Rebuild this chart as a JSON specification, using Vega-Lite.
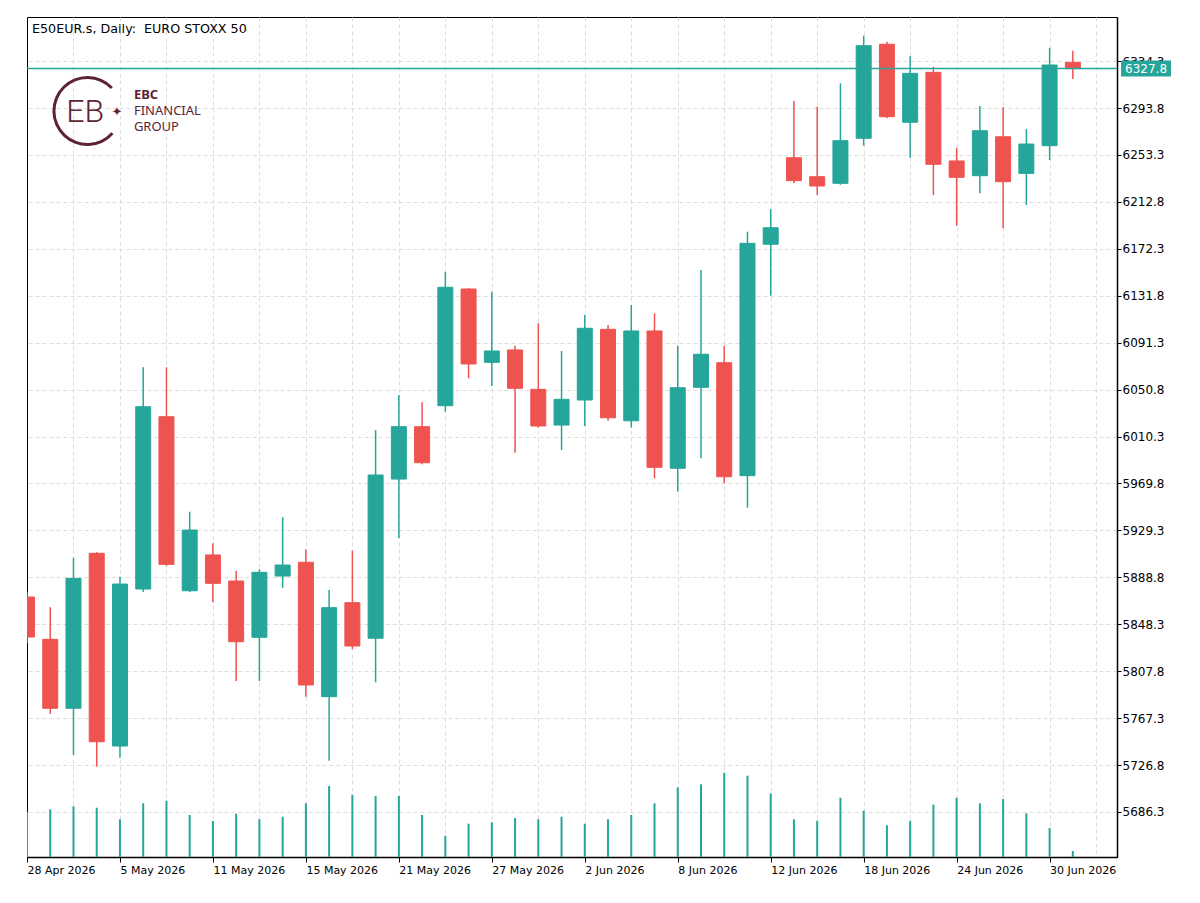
{
  "$schema": "https://vega.github.io/schema/vega-lite/v6.json",
  "width": 1090,
  "height": 840,
  "padding": {"left": 27, "top": 17, "right": 83, "bottom": 46},
  "autosize": {"type": "none"},
  "background": "white",
  "config": {
    "view": {"stroke": "#000000", "strokeWidth": 1},
    "font": "DejaVu Sans",
    "text": {"font": "DejaVu Sans"}
  },
  "data": {
    "values": [
      {"bar": 0, "date": "2026-04-28", "open": 5871.8, "high": 5876.0, "low": 5832.0, "close": 5837.3, "volume": 63000},
      {"bar": 1, "date": "2026-04-29", "open": 5835.3, "high": 5862.9, "low": 5770.9, "close": 5775.8, "volume": 66800},
      {"bar": 2, "date": "2026-04-30", "open": 5775.8, "high": 5905.7, "low": 5735.5, "close": 5887.9, "volume": 71000},
      {"bar": 3, "date": "2026-05-04", "open": 5909.5, "high": 5910.5, "low": 5725.4, "close": 5746.9, "volume": 69000},
      {"bar": 4, "date": "2026-05-05", "open": 5743.2, "high": 5889.3, "low": 5733.1, "close": 5883.0, "volume": 52800},
      {"bar": 5, "date": "2026-05-06", "open": 5878.7, "high": 6070.0, "low": 5876.1, "close": 6036.0, "volume": 75200},
      {"bar": 6, "date": "2026-05-07", "open": 6027.4, "high": 6070.0, "low": 5898.6, "close": 5900.0, "volume": 78800},
      {"bar": 7, "date": "2026-05-08", "open": 5877.2, "high": 5945.4, "low": 5876.0, "close": 5929.6, "volume": 58800},
      {"bar": 8, "date": "2026-05-11", "open": 5908.1, "high": 5918.2, "low": 5867.2, "close": 5883.6, "volume": 50400},
      {"bar": 9, "date": "2026-05-12", "open": 5885.6, "high": 5894.5, "low": 5799.3, "close": 5833.2, "volume": 60600},
      {"bar": 10, "date": "2026-05-13", "open": 5837.0, "high": 5895.7, "low": 5799.3, "close": 5893.1, "volume": 52800},
      {"bar": 11, "date": "2026-05-14", "open": 5889.9, "high": 5940.6, "low": 5879.8, "close": 5899.4, "volume": 56400},
      {"bar": 12, "date": "2026-05-15", "open": 5901.8, "high": 5913.0, "low": 5785.8, "close": 5795.9, "volume": 75200},
      {"bar": 13, "date": "2026-05-18", "open": 5785.8, "high": 5877.9, "low": 5730.5, "close": 5862.6, "volume": 99400},
      {"bar": 14, "date": "2026-05-19", "open": 5866.9, "high": 5911.8, "low": 5826.9, "close": 5829.5, "volume": 87200},
      {"bar": 15, "date": "2026-05-20", "open": 5836.2, "high": 6015.9, "low": 5798.2, "close": 5977.1, "volume": 85400},
      {"bar": 16, "date": "2026-05-21", "open": 5973.6, "high": 6046.1, "low": 5922.7, "close": 6018.8, "volume": 85400},
      {"bar": 17, "date": "2026-05-22", "open": 6018.8, "high": 6039.8, "low": 5986.3, "close": 5987.7, "volume": 58800},
      {"bar": 18, "date": "2026-05-25", "open": 6036.9, "high": 6152.5, "low": 6031.7, "close": 6139.1, "volume": 29800},
      {"bar": 19, "date": "2026-05-26", "open": 6137.6, "high": 6138.5, "low": 6060.5, "close": 6072.9, "volume": 46600},
      {"bar": 20, "date": "2026-05-27", "open": 6074.3, "high": 6135.3, "low": 6053.9, "close": 6084.1, "volume": 48600},
      {"bar": 21, "date": "2026-05-28", "open": 6085.0, "high": 6088.7, "low": 5996.3, "close": 6051.9, "volume": 54600},
      {"bar": 22, "date": "2026-05-29", "open": 6051.0, "high": 6108.0, "low": 6017.9, "close": 6019.4, "volume": 52800},
      {"bar": 23, "date": "2026-06-01", "open": 6020.2, "high": 6084.1, "low": 5998.7, "close": 6042.4, "volume": 56400},
      {"bar": 24, "date": "2026-06-02", "open": 6041.8, "high": 6115.2, "low": 6019.4, "close": 6103.7, "volume": 46600},
      {"bar": 25, "date": "2026-06-03", "open": 6102.8, "high": 6106.5, "low": 6023.9, "close": 6026.5, "volume": 52800},
      {"bar": 26, "date": "2026-06-04", "open": 6023.9, "high": 6123.8, "low": 6017.9, "close": 6101.4, "volume": 58800},
      {"bar": 27, "date": "2026-06-05", "open": 6101.4, "high": 6116.6, "low": 5974.2, "close": 5983.7, "volume": 75200},
      {"bar": 28, "date": "2026-06-08", "open": 5982.9, "high": 6088.7, "low": 5962.7, "close": 6052.4, "volume": 97600},
      {"bar": 29, "date": "2026-06-09", "open": 6052.8, "high": 6154.0, "low": 5991.5, "close": 6081.3, "volume": 101800},
      {"bar": 30, "date": "2026-06-10", "open": 6074.0, "high": 6088.7, "low": 5969.9, "close": 5975.6, "volume": 118000},
      {"bar": 31, "date": "2026-06-11", "open": 5976.5, "high": 6187.1, "low": 5948.9, "close": 6177.0, "volume": 113800},
      {"bar": 32, "date": "2026-06-12", "open": 6176.2, "high": 6206.6, "low": 6131.8, "close": 6190.5, "volume": 89200},
      {"bar": 33, "date": "2026-06-15", "open": 6250.9, "high": 6299.8, "low": 6228.8, "close": 6231.1, "volume": 52800},
      {"bar": 34, "date": "2026-06-16", "open": 6234.5, "high": 6294.9, "low": 6218.7, "close": 6226.5, "volume": 50800},
      {"bar": 35, "date": "2026-06-17", "open": 6228.8, "high": 6315.1, "low": 6227.5, "close": 6265.6, "volume": 83000},
      {"bar": 36, "date": "2026-06-18", "open": 6267.7, "high": 6356.2, "low": 6261.3, "close": 6347.6, "volume": 64800},
      {"bar": 37, "date": "2026-06-19", "open": 6348.8, "high": 6351.0, "low": 6284.9, "close": 6286.3, "volume": 44400},
      {"bar": 38, "date": "2026-06-22", "open": 6281.5, "high": 6338.7, "low": 6250.9, "close": 6323.7, "volume": 50800},
      {"bar": 39, "date": "2026-06-23", "open": 6324.6, "high": 6329.4, "low": 6218.7, "close": 6245.2, "volume": 73200},
      {"bar": 40, "date": "2026-06-24", "open": 6248.1, "high": 6259.5, "low": 6192.2, "close": 6234.0, "volume": 83000},
      {"bar": 41, "date": "2026-06-25", "open": 6235.4, "high": 6295.5, "low": 6220.2, "close": 6274.2, "volume": 75200},
      {"bar": 42, "date": "2026-06-26", "open": 6269.0, "high": 6294.4, "low": 6190.0, "close": 6230.2, "volume": 81200},
      {"bar": 43, "date": "2026-06-29", "open": 6237.4, "high": 6275.7, "low": 6210.1, "close": 6262.7, "volume": 61200},
      {"bar": 44, "date": "2026-06-30", "open": 6261.3, "high": 6345.8, "low": 6248.9, "close": 6330.9, "volume": 40600},
      {"bar": 45, "date": "2026-07-01", "open": 6333.2, "high": 6343.2, "low": 6318.8, "close": 6327.8, "volume": 8400}
    ]
  },
  "layer": [
    {
      "mark": {"type": "rule", "strokeWidth": 2, "color": "#26A69A", "clip": true},
      "encoding": {
        "x": {"field": "bar", "type": "quantitative", "title": null},
        "y": {"field": "volume", "type": "quantitative", "scale": {"domain": [0, 1176000], "nice": false, "zero": true, "padding": 0}, "axis": null},
        "y2": {"datum": 0}
      }
    },
    {
      "layer": [
        {
          "mark": {"type": "rule", "strokeWidth": 1.5, "clip": true},
          "encoding": {
            "x": {
              "field": "bar",
              "type": "quantitative",
              "scale": {"domain": [0, 46.9], "nice": false, "zero": false, "padding": 0},
              "axis": {
                "title": null,
                "values": [0, 2, 4, 6, 8, 10, 12, 14, 16, 18, 20, 22, 24, 26, 28, 30, 32, 34, 36, 38, 40, 42, 44, 46],
                "labelExpr": "datum.value % 4 === 0 ? ['28 Apr 2026','5 May 2026','11 May 2026','15 May 2026','21 May 2026','27 May 2026','2 Jun 2026','8 Jun 2026','12 Jun 2026','18 Jun 2026','24 Jun 2026','30 Jun 2026'][datum.value / 4] : ''",
                "labelAlign": "left",
                "labelBaseline": "top",
                "labelPadding": 2,
                "labelFont": "DejaVu Sans",
                "labelFontSize": 11,
                "labelColor": "#000000",
                "labelFlush": false,
                "labelOverlap": false,
                "labelBound": false,
                "tickColor": "#000000",
                "tickSize": 5,
                "tickWidth": 1,
                "tickOpacity": {"condition": {"test": "datum.value % 4 === 0", "value": 1}, "value": 0},
                "domainColor": "#000000",
                "domainWidth": 1.5,
                "grid": true,
                "gridColor": "#dedede",
                "gridDash": [4, 3],
                "gridWidth": 1,
                "gridOpacity": {"condition": {"test": "datum.value === 0", "value": 0}, "value": 1}
              }
            },
            "y": {
              "field": "low",
              "type": "quantitative",
              "scale": {"domain": [5647.44, 6372.33], "nice": false, "zero": false, "padding": 0},
              "axis": {
                "title": null,
                "orient": "right",
                "values": [5686.3, 5726.8, 5767.3, 5807.8, 5848.3, 5888.8, 5929.3, 5969.8, 6010.3, 6050.8, 6091.3, 6131.8, 6172.3, 6212.8, 6253.3, 6293.8, 6334.3],
                "format": ".1f",
                "labelFont": "DejaVu Sans",
                "labelFontSize": 12,
                "labelColor": "#000000",
                "labelPadding": 1,
                "labelFlush": false,
                "labelOverlap": false,
                "tickColor": "#000000",
                "tickSize": 4,
                "domainColor": "#000000",
                "domainWidth": 1.5,
                "grid": true,
                "gridColor": "#dedede",
                "gridDash": [4, 3],
                "gridWidth": 1
              }
            },
            "y2": {"field": "high"},
            "color": {"condition": {"test": "datum.close >= datum.open", "value": "#26A69A"}, "value": "#EF5350"}
          }
        },
        {
          "mark": {"type": "bar", "size": 15, "strokeWidth": 1, "clip": true},
          "encoding": {
            "x": {"field": "bar", "type": "quantitative", "title": null},
            "y": {"field": "open", "type": "quantitative", "title": null},
            "y2": {"field": "close"},
            "color": {"condition": {"test": "datum.close >= datum.open", "value": "#26A69A"}, "value": "#EF5350"},
            "stroke": {"condition": {"test": "datum.close >= datum.open", "value": "#26A69A"}, "value": "#EF5350"}
          }
        },
        {
          "transform": [{"filter": "datum.bar === 45"}],
          "mark": {"type": "rule", "color": "#26A69A", "strokeWidth": 1.5},
          "encoding": {
            "y": {"field": "close", "type": "quantitative", "title": null}
          }
        },
        {
          "transform": [{"filter": "datum.bar === 45"}],
          "mark": {"type": "point", "shape": "M-1,-0.32H1V0.32H-1Z", "size": 2500, "filled": true, "opacity": 1, "color": "#26A69A"},
          "encoding": {
            "x": {"datum": 48.15},
            "y": {"field": "close", "type": "quantitative", "title": null}
          }
        },
        {
          "transform": [{"filter": "datum.bar === 45"}],
          "mark": {"type": "text", "align": "center", "baseline": "middle", "fontSize": 12, "font": "DejaVu Sans", "color": "#ffffff"},
          "encoding": {
            "x": {"datum": 48.15},
            "y": {"field": "close", "type": "quantitative", "title": null},
            "text": {"field": "close", "type": "quantitative", "format": ".1f"}
          }
        },
        {
          "data": {"values": [{"label": "E50EUR.s, Daily: \u00a0EURO STOXX 50"}]},
          "mark": {"type": "text", "align": "left", "baseline": "middle", "fontSize": 12.7, "font": "DejaVu Sans", "color": "#000000"},
          "encoding": {
            "x": {"datum": 0.215},
            "y": {"datum": 6362.0},
            "text": {"field": "label"}
          }
        },
        {
          "data": {"values": [{}]},
          "mark": {"type": "arc", "radius": 35, "radius2": 32, "theta": 2.3, "theta2": 7.1, "color": "#5c2333"},
          "encoding": {
            "x": {"datum": 2.6},
            "y": {"datum": 6291.2}
          }
        },
        {
          "data": {"values": [{"label": "EB"}]},
          "mark": {"type": "text", "align": "center", "baseline": "middle", "fontSize": 32, "font": "Roboto", "fontWeight": 300, "letterSpacing": -5, "color": "#5c2333"},
          "encoding": {
            "x": {"datum": 2.5},
            "y": {"datum": 6290.0},
            "text": {"field": "label"}
          }
        },
        {
          "data": {"values": [{"label": "✦"}]},
          "mark": {"type": "text", "align": "center", "baseline": "middle", "fontSize": 13, "font": "DejaVu Sans", "color": "#5c2333"},
          "encoding": {
            "x": {"datum": 3.87},
            "y": {"datum": 6290.4},
            "text": {"field": "label"}
          }
        },
        {
          "data": {"values": [{"label": "EBC"}]},
          "mark": {"type": "text", "align": "left", "baseline": "middle", "fontSize": 13, "font": "Noto Sans", "fontWeight": "bold", "color": "#5c2333"},
          "encoding": {
            "x": {"datum": 4.6},
            "y": {"datum": 6304.6},
            "text": {"field": "label"}
          }
        },
        {
          "data": {"values": [{"label": "FINANCIAL"}]},
          "mark": {"type": "text", "align": "left", "baseline": "middle", "fontSize": 13, "font": "Noto Sans", "color": "#5c2333"},
          "encoding": {
            "x": {"datum": 4.6},
            "y": {"datum": 6290.8},
            "text": {"field": "label"}
          }
        },
        {
          "data": {"values": [{"label": "GROUP"}]},
          "mark": {"type": "text", "align": "left", "baseline": "middle", "fontSize": 13, "font": "Noto Sans", "color": "#5c2333"},
          "encoding": {
            "x": {"datum": 4.6},
            "y": {"datum": 6277.0},
            "text": {"field": "label"}
          }
        }
      ]
    }
  ],
  "resolve": {"scale": {"y": "independent"}}
}
